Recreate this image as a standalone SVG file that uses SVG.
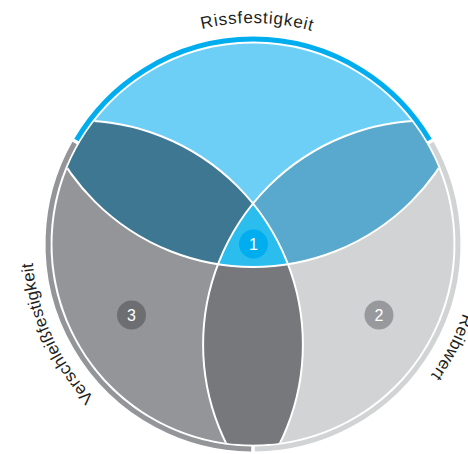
<svg xmlns="http://www.w3.org/2000/svg" width="468" height="454" viewBox="0 0 468 454">
<style>
.lbl{font-family:"Liberation Sans",Arial,sans-serif;font-size:17px;fill:#231f20}
.num{font-family:"Liberation Sans",Arial,sans-serif;font-size:16px;fill:#ffffff;text-anchor:middle}
.edge{fill:none;stroke:#ffffff;stroke-width:2}
.ring{fill:none;stroke-width:5}
</style>
<defs>
<clipPath id="disc"><circle cx="253" cy="244" r="200.5"/></clipPath>
<clipPath id="cA"><circle cx="253" cy="43" r="224"/></clipPath>
<clipPath id="cB"><circle cx="78.9" cy="344.5" r="224"/></clipPath>
<clipPath id="cC"><circle cx="427.1" cy="344.5" r="224"/></clipPath>
<path id="labelPath" d="M 253 465 A 221 221 0 1 1 253 23 A 221 221 0 1 1 253 465"/>
</defs>
<rect width="468" height="454" fill="#ffffff"/>
<g id="regions" clip-path="url(#disc)">
<g id="rissfestigkeit-area"><circle cx="253" cy="43" r="224" fill="#6dcff6"/></g>
<g id="verschleiss-area"><circle cx="78.9" cy="344.5" r="224" fill="#939598"/></g>
<g id="reibwert-area"><circle cx="427.1" cy="344.5" r="224" fill="#d1d3d4"/></g>
<g id="overlap-A-B" clip-path="url(#cA)"><circle cx="78.9" cy="344.5" r="224" fill="#3e7791"/></g>
<g id="overlap-A-C" clip-path="url(#cA)"><circle cx="427.1" cy="344.5" r="224" fill="#58a9cd"/></g>
<g id="overlap-B-C" clip-path="url(#cB)"><circle cx="427.1" cy="344.5" r="224" fill="#77787b"/></g>
<g id="overlap-all" clip-path="url(#cA)"><g clip-path="url(#cB)"><circle cx="427.1" cy="344.5" r="224" fill="#2bbdee"/></g></g>
<g id="edges">
<circle class="edge" cx="253" cy="43" r="224"/>
<circle class="edge" cx="78.9" cy="344.5" r="224"/>
<circle class="edge" cx="427.1" cy="344.5" r="224"/>
</g>
</g>
<g id="connectors">
<path class="ring" stroke="#00aeef" d="M 76.4 140 A 205 205 0 0 1 429.6 140"/>
<path class="ring" stroke="#939598" d="M 74.6 143.1 A 205 205 0 0 0 251.2 449"/>
<path class="ring" stroke="#d1d3d4" d="M 431.4 143.1 A 205 205 0 0 1 254.8 449"/>
</g>
<g id="label-rissfestigkeit"><text class="lbl"><textPath href="#labelPath" startOffset="50.28%" text-anchor="middle" textLength="111" lengthAdjust="spacing">Rissfestigkeit</textPath></text></g>
<g id="label-verschleissfestigkeit"><text class="lbl"><textPath href="#labelPath" startOffset="18.2%" text-anchor="middle" textLength="151" lengthAdjust="spacing">Verschleißfestigkeit</textPath></text></g>
<g id="label-reibwert"><text class="lbl"><textPath href="#labelPath" startOffset="82.6%" text-anchor="middle" textLength="70" lengthAdjust="spacing">Reibwert</textPath></text></g>
<g id="badge-1"><circle cx="253.5" cy="244" r="14.5" fill="#00aeef"/><text class="num" x="253.5" y="250">1</text></g>
<g id="badge-2"><circle cx="379" cy="315" r="14.5" fill="#98999c"/><text class="num" x="379" y="321">2</text></g>
<g id="badge-3"><circle cx="131.5" cy="315" r="14.5" fill="#6d6e71"/><text class="num" x="131.5" y="321">3</text></g>
</svg>
